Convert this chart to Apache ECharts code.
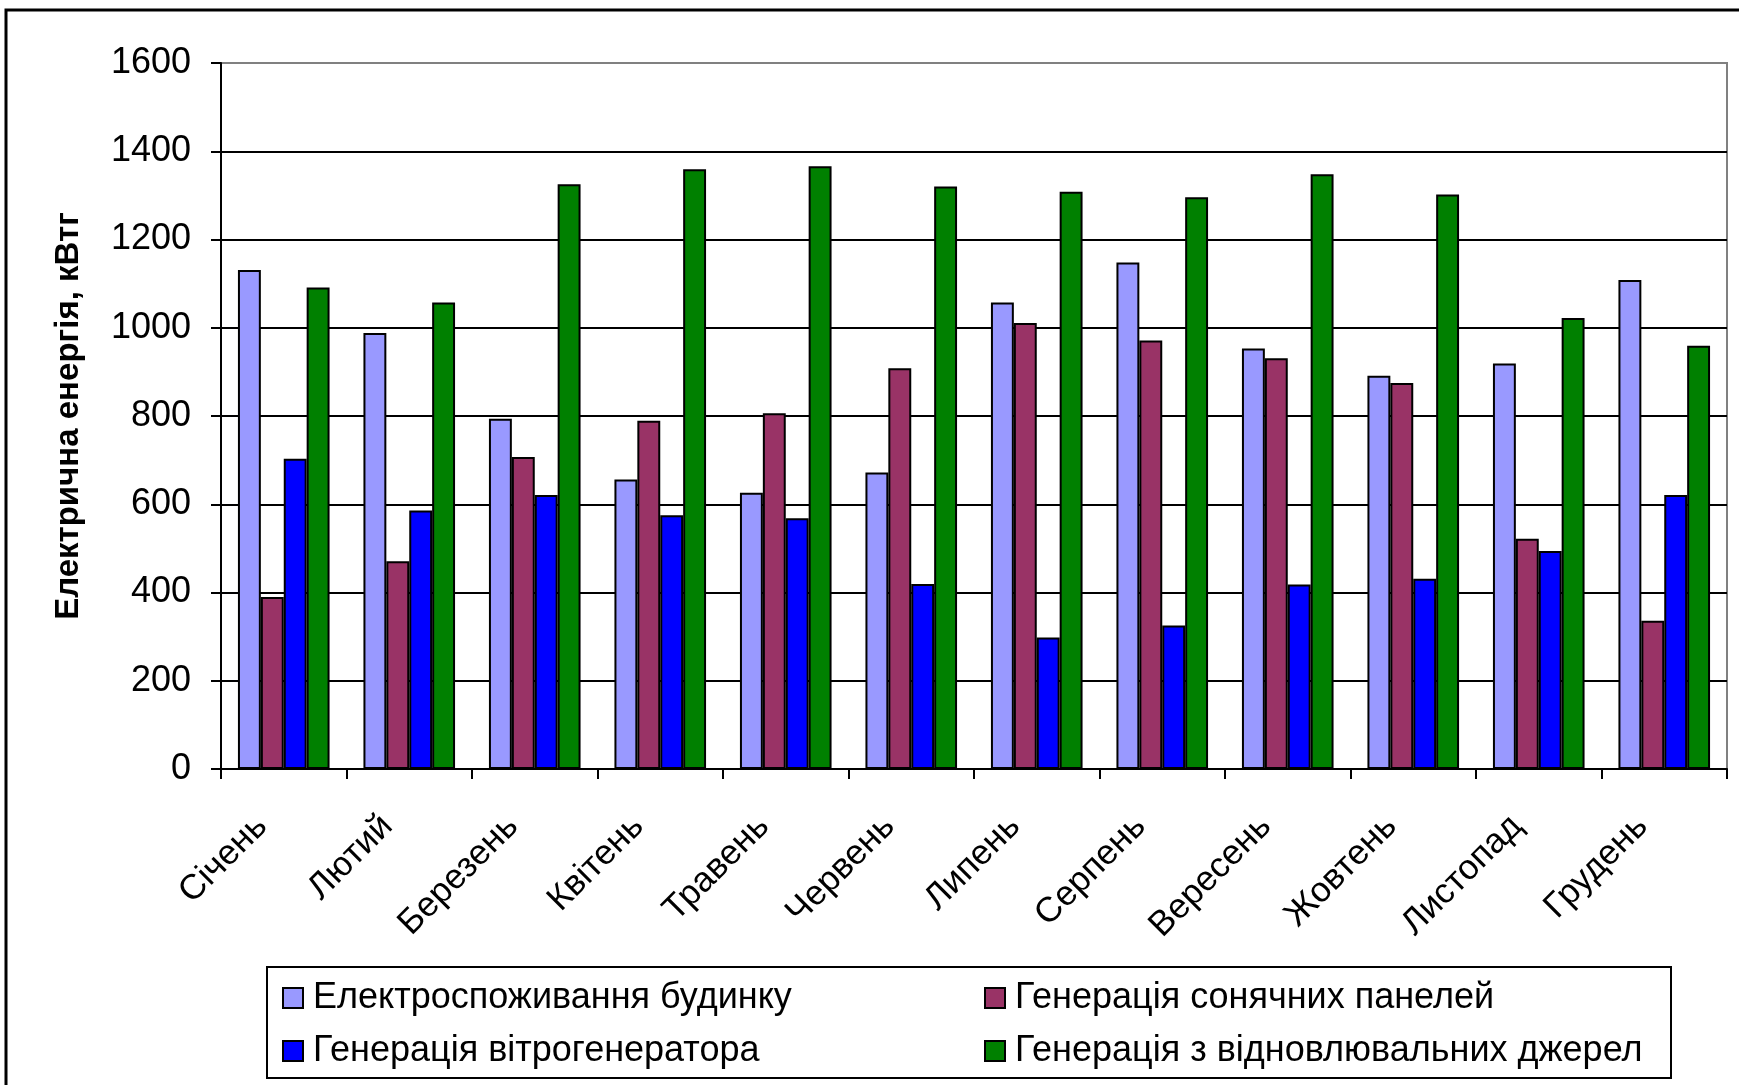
<!DOCTYPE html>
<html>
<head>
<meta charset="utf-8">
<script src="https://cdn.jsdelivr.net/npm/echarts@6/dist/echarts.min.js"></script>
<style>
  html, body { margin: 0; padding: 0; background: #fff; }
  #chart { width: 1739px; height: 1085px; }
</style>
</head>
<body>
<div id="chart"></div>
<script>
// Months of the year
const months = ['Січень', 'Лютий', 'Березень', 'Квітень', 'Травень', 'Червень',
                'Липень', 'Серпень', 'Вересень', 'Жовтень', 'Листопад', 'Грудень'];

// Monthly energy, kWh
const consumption = [1131, 988, 794, 656, 626, 672, 1057, 1148, 953, 891, 919, 1108];
const solar       = [390, 471, 707, 789, 806, 908, 1011, 971, 931, 875, 522, 336];
const wind        = [703, 586, 621, 575, 568, 419, 298, 325, 418, 431, 494, 621];
const renewable   = [1091, 1057, 1325, 1359, 1366, 1320, 1308, 1296, 1348, 1302, 1022, 959];

const seriesNames = ['Електроспоживання будинку', 'Генерація сонячних панелей',
                     'Генерація вітрогенератора', 'Генерація з відновлювальних джерел'];
const seriesColors = ['#9999FF', '#993366', '#0000FF', '#008000'];
const seriesData = [consumption, solar, wind, renewable];

const yTicks = { min: 0, max: 1600, step: 200 };

const FONT = 'Liberation Sans';

const chart = echarts.init(document.getElementById('chart'), null, { renderer: 'canvas' });

const legendText = { fontFamily: FONT, fontSize: 36, color: '#000', lineHeight: 36, padding: [0, 0, 0, 5] };
const legendCommon = {
  orient: 'vertical',
  itemWidth: 20,
  itemHeight: 20,
  itemGap: 17,
  icon: 'rect',
  textStyle: legendText,
  selectedMode: false,
  itemStyle: { borderColor: '#000', borderWidth: 2 }
};

chart.setOption({
  backgroundColor: '#fff',
  animation: false,
  graphic: [
    { // outer frame
      type: 'rect', z: 100, silent: true,
      shape: { x: 6, y: 10, width: 1800, height: 1200 },
      style: { fill: 'none', stroke: '#000', lineWidth: 3 }
    },
    { // legend box
      type: 'rect', z: 100, silent: true,
      shape: { x: 267, y: 967, width: 1404, height: 111 },
      style: { fill: 'none', stroke: '#000', lineWidth: 2 }
    }
  ],
  legend: [
    Object.assign({ left: 277, top: 975, data: [seriesNames[0], seriesNames[2]] }, legendCommon),
    Object.assign({ left: 979, top: 975, data: [seriesNames[1], seriesNames[3]] }, legendCommon)
  ],
  grid: {
    left: 221, right: 12, top: 63, bottom: 316,
    show: true, borderColor: '#808080', borderWidth: 2, backgroundColor: '#fff'
  },
  xAxis: {
    type: 'category',
    data: months,
    axisLine: { lineStyle: { color: '#000', width: 2 } },
    axisTick: { show: true, length: 10, lineStyle: { color: '#000', width: 2 } },
    axisLabel: {
      rotate: 45, margin: 30, interval: 0,
      padding: [0, 31, 0, 0],
      fontFamily: FONT, fontSize: 35, color: '#000'
    }
  },
  yAxis: {
    type: 'value',
    min: yTicks.min, max: yTicks.max, interval: yTicks.step,
    name: 'Електрична енергія, кВтг',
    nameLocation: 'middle',
    nameGap: 136,
    nameTextStyle: { fontFamily: FONT, fontSize: 33, fontWeight: 'bold', color: '#000' },
    axisLine: { show: true, lineStyle: { color: '#000', width: 2 } },
    axisTick: { show: true, length: 10, lineStyle: { color: '#000', width: 2 } },
    axisLabel: {
      margin: 30, fontFamily: FONT, fontSize: 36, color: '#000',
      formatter: v => String(v)
    },
    splitLine: {
      show: true,
      lineStyle: {
        width: 2,
        color: ['#000', '#000', '#000', '#000', '#000', '#000', '#000', '#000', '#808080']
      }
    }
  },
  series: seriesData.map((d, i) => ({
    name: seriesNames[i],
    type: 'bar',
    data: d,
    barGap: '0%',
    barCategoryGap: '27%',
    itemStyle: { color: seriesColors[i], borderColor: '#000', borderWidth: 2 }
  }))
});
</script>
</body>
</html>
